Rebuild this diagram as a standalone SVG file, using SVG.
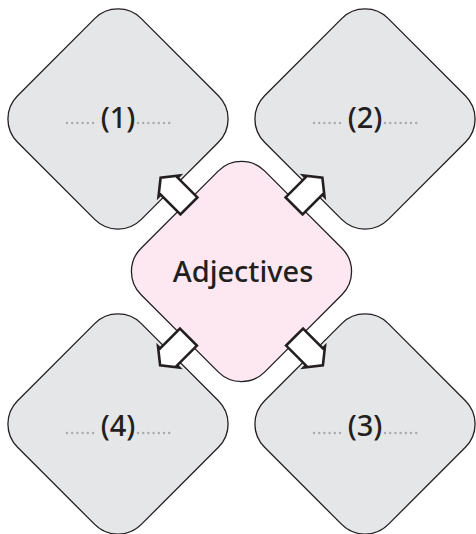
<svg xmlns="http://www.w3.org/2000/svg" width="476" height="534" viewBox="0 0 476 534">
<style>
.box{fill:#e5e6e8;stroke:#231f20;stroke-width:1.3}
.ctr{fill:#fde8f1;stroke:#231f20;stroke-width:1.3}
.lbl{font-family:"Noto Sans","Open Sans",sans-serif;font-size:29px;font-weight:500;fill:#231f20;text-anchor:middle}
.main{font-family:"Noto Sans","Open Sans",sans-serif;font-size:29px;font-weight:500;fill:#231f20;text-anchor:middle}
.dots{stroke:#a7a9ac;stroke-width:2.4;stroke-linecap:round;stroke-dasharray:0 5.2;fill:none}
.arr{fill:#ffffff;stroke:#231f20;stroke-width:2.6;stroke-linejoin:miter}
</style>
<defs>
<rect id="dia" x="-87.5" y="-87.5" width="175" height="175" rx="33" ry="33" transform="rotate(45)"/>
<path id="arrow" d="M-14,-12 L14,-12 L14,-15 L26,0 L14,15 L14,12 L-14,12 Z"/>
</defs>
<rect width="476" height="534" fill="#ffffff"/>
<g id="node1" transform="translate(118,119)">
<use href="#dia" class="box"/>
<line class="dots" x1="-51" y1="4" x2="-21" y2="4"/>
<line class="dots" x1="20" y1="4" x2="55" y2="4"/>
<text class="lbl" x="0" y="9">(1)</text>
</g>
<g id="node2" transform="translate(365,119)">
<use href="#dia" class="box"/>
<line class="dots" x1="-51" y1="4" x2="-21" y2="4"/>
<line class="dots" x1="20" y1="4" x2="55" y2="4"/>
<text class="lbl" x="0" y="9">(2)</text>
</g>
<g id="node3" transform="translate(365,424)">
<use href="#dia" class="box"/>
<line class="dots" x1="-51" y1="9" x2="-21" y2="9"/>
<line class="dots" x1="20" y1="9" x2="55" y2="9"/>
<text class="lbl" x="0" y="12">(3)</text>
</g>
<g id="node4" transform="translate(118,424)">
<use href="#dia" class="box"/>
<line class="dots" x1="-51" y1="9" x2="-21" y2="9"/>
<line class="dots" x1="20" y1="9" x2="55" y2="9"/>
<text class="lbl" x="0" y="12">(4)</text>
</g>
<g id="center" transform="translate(241.5,271.5)">
<use href="#dia" class="ctr"/>
<text class="main" x="1.5" y="10.5">Adjectives</text>
</g>
<g id="connectors">
<use href="#arrow" class="arr" transform="translate(179,196) rotate(225)"/>
<use href="#arrow" class="arr" transform="translate(304,196) rotate(-45)"/>
<use href="#arrow" class="arr" transform="translate(304.5,347) rotate(45)"/>
<use href="#arrow" class="arr" transform="translate(178.5,347) rotate(135)"/>
</g>
</svg>
